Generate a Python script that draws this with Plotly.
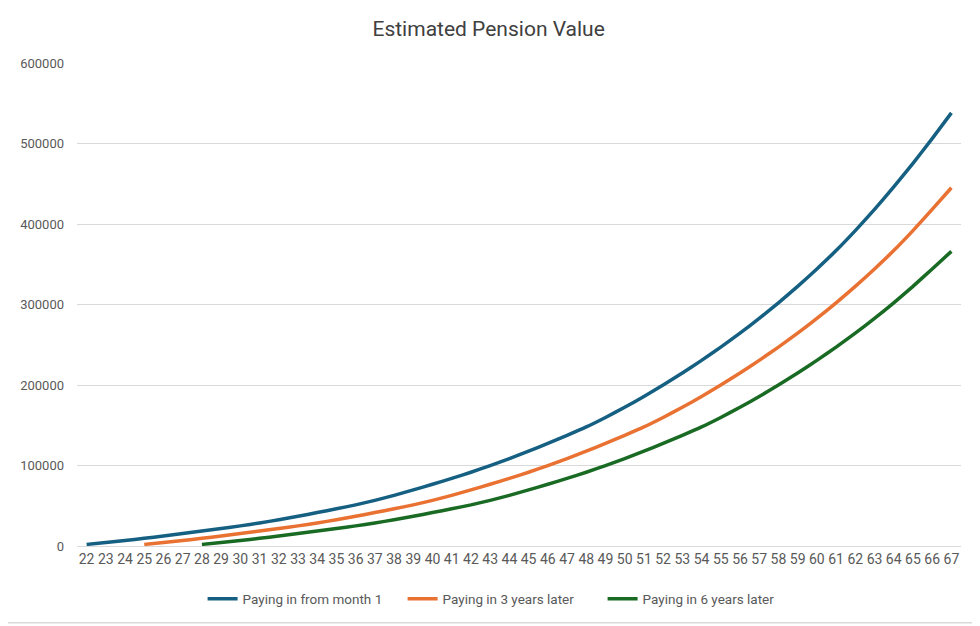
import plotly.graph_objects as go

# ages on the x axis
ages = list(range(22, 68))

# estimated pension value
paying_from_month_1 = [
    2000, 4300, 6800, 9500, 12400, 15400, 18500, 21700, 25000, 28600,
    32600, 37000, 41500, 46200, 51100, 56700, 62900, 69700, 76700, 84000,
    91600, 99900, 108600, 117800, 127400, 137400, 147900, 159700, 172300, 185700,
    199900, 214900, 230600, 247000, 264400, 282700, 302000, 322500, 344200, 367000,
    391800, 418100, 446000, 475400, 506100, 538000,
]
paying_3_years_later = [
    None, None, None,
    2000, 4300, 6800, 9500, 12400, 15400, 18500, 21700, 25000, 28600,
    32600, 37000, 41500, 46200, 51100, 56700, 62900, 69700, 76700, 84000,
    91600, 99900, 108600, 117800, 127400, 137400, 147900, 159700, 172300, 185700,
    199900, 214900, 230600, 247000, 264400, 282700, 302000, 322500, 344200, 367000,
    391800, 418100, 445000,
]
paying_6_years_later = [
    None, None, None, None, None, None,
    2000, 4300, 6800, 9500, 12400, 15400, 18500, 21700, 25000, 28600,
    32600, 37000, 41500, 46200, 51100, 56700, 62900, 69700, 76700, 84000,
    91600, 99900, 108600, 117800, 127400, 137400, 147900, 159700, 172300, 185700,
    199900, 214900, 230600, 247000, 264400, 282700, 302000, 322500, 344200, 366000,
]

series = [
    ("Paying in from month 1", paying_from_month_1, "#156082"),
    ("Paying in 3 years later", paying_3_years_later, "#E97132"),
    ("Paying in 6 years later", paying_6_years_later, "#196B24"),
]

FONT = "Roboto, sans-serif"
# page body has an 8px margin, so the figure is 8px smaller each way
W, H = 972, 618
L, R, T, B = 64, 19, 55, 79

fig = go.Figure()
for name, vals, col in series:
    fig.add_trace(go.Scatter(
        x=ages, y=vals, name=name, mode="lines",
        line=dict(color=col, width=3.5, shape="spline", smoothing=0.5),
    ))

pw = W - L - R
ph = H - T - B
fig.update_layout(
    width=W, height=H,
    margin=dict(l=L, r=R, t=T, b=B),
    paper_bgcolor="white", plot_bgcolor="white",
    font=dict(family=FONT, color="#595959", size=14),
    title=dict(text="Estimated Pension Value", x=(W / 2 - 8 - L) / pw, xref="paper",
               xanchor="center", y=1 - 21 / H, yanchor="middle",
               font=dict(size=21, color="#404040")),
    showlegend=True,
    legend=dict(orientation="h", x=(492 - L) / pw, xanchor="center",
                y=-53 / ph, yanchor="middle",
                entrywidth=155, entrywidthmode="pixels",
                font=dict(size=13.5, color="#595959")),
    xaxis=dict(
        range=[21.5, 67.5], tickmode="array", tickvals=ages,
        ticktext=[str(a) for a in ages], tickangle=0,
        showgrid=False, zeroline=False, showline=True,
        linecolor="#D9D9D9", linewidth=1, ticks="",
        tickfont=dict(size=14),
    ),
    yaxis=dict(
        range=[0, 600000], tickmode="linear", tick0=0, dtick=100000,
        tickformat="d", showgrid=True, gridcolor="#D9D9D9", gridwidth=1,
        zeroline=False, showline=False, ticks="", ticklabelstandoff=12,
        tickfont=dict(size=13),
    ),
    shapes=[dict(
        type="rect", xref="paper", yref="paper",
        x0=(-7 - L) / pw, x1=(968 - L) / pw,
        y0=-(616 - (T + ph)) / ph, y1=1 + (T + 7) / ph,
        line=dict(color="#D9D9D9", width=1.5),
    )],
)

fig.write_html("out.html")
